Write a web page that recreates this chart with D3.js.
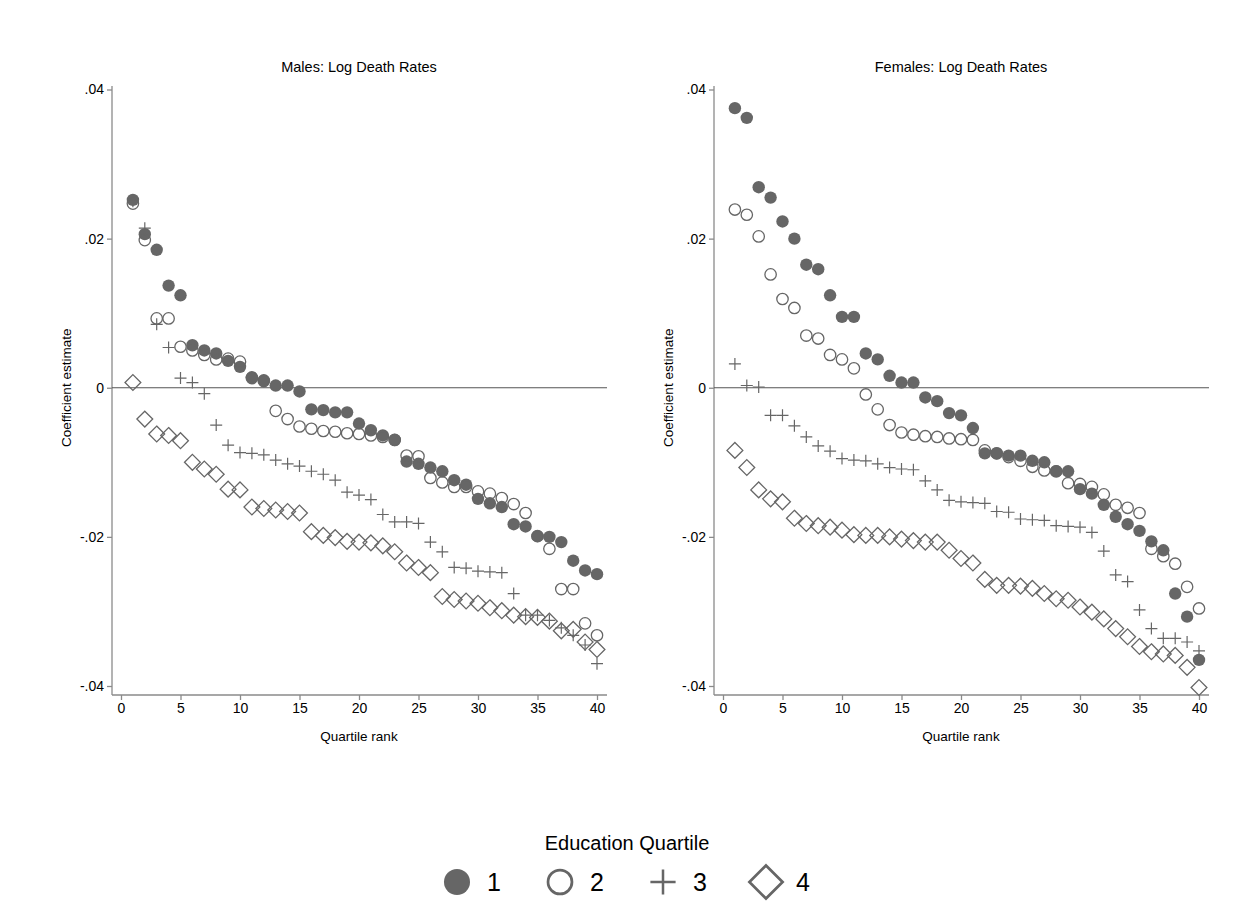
<!DOCTYPE html>
<html>
<head>
<meta charset="utf-8">
<script src="https://cdn.jsdelivr.net/npm/d3@7"></script>
<style>
  body { margin: 0; background: #fff; }
  text { font-family: "Liberation Sans", Arial, Helvetica, sans-serif; }
</style>
</head>
<body>
<div id="chart"></div>
<script>
var svgWidth = 1251;
var svgHeight = 911;

var ranks = d3.range(1, 41);
var yTicks = [0.04, 0.02, 0, -0.02, -0.04];
var yTickLabels = [".04", ".02", "0", "-.02", "-.04"];
var xTicks = [0, 5, 10, 15, 20, 25, 30, 35, 40];
var quartiles = ["1", "2", "3", "4"];

// Males, one array per education quartile (rank 1..40)
var maleQ1 = [0.0252, 0.0206, 0.0185, 0.0137, 0.0124, 0.0057, 0.0050, 0.0046, 0.0036, 0.0028,
	0.0014, 0.0010, 0.0003, 0.0003, -0.0005, -0.0029, -0.0030, -0.0033, -0.0033, -0.0048,
	-0.0057, -0.0064, -0.0070, -0.0099, -0.0102, -0.0107, -0.0112, -0.0124, -0.0130, -0.0149,
	-0.0155, -0.0160, -0.0183, -0.0186, -0.0199, -0.0200, -0.0207, -0.0232, -0.0245, -0.0250];
var maleQ2 = [0.0247, 0.0198, 0.0093, 0.0093, 0.0055, 0.0050, 0.0044, 0.0038, 0.0039, 0.0035,
	0.0013, 0.0009, -0.0031, -0.0042, -0.0052, -0.0055, -0.0058, -0.0059, -0.0061, -0.0062,
	-0.0064, -0.0066, -0.0070, -0.0091, -0.0092, -0.0121, -0.0127, -0.0133, -0.0133, -0.0139,
	-0.0142, -0.0148, -0.0156, -0.0168, -0.0199, -0.0216, -0.0270, -0.0270, -0.0316, -0.0332];
var maleQ3 = [0.0250, 0.0214, 0.0085, 0.0054, 0.0013, 0.0007, -0.0008, -0.0050, -0.0077, -0.0087,
	-0.0088, -0.0090, -0.0097, -0.0102, -0.0105, -0.0112, -0.0116, -0.0124, -0.0140, -0.0144,
	-0.0150, -0.0170, -0.0180, -0.0180, -0.0182, -0.0207, -0.0220, -0.0241, -0.0242, -0.0246,
	-0.0247, -0.0248, -0.0276, -0.0305, -0.0305, -0.0312, -0.0322, -0.0332, -0.0345, -0.0370];
var maleQ4 = [0.0007, -0.0042, -0.0062, -0.0064, -0.0071, -0.0100, -0.0109, -0.0116, -0.0136, -0.0137,
	-0.0160, -0.0162, -0.0164, -0.0166, -0.0168, -0.0193, -0.0198, -0.0201, -0.0206, -0.0207,
	-0.0208, -0.0212, -0.0220, -0.0235, -0.0241, -0.0248, -0.0280, -0.0284, -0.0286, -0.0289,
	-0.0295, -0.0299, -0.0305, -0.0307, -0.0308, -0.0313, -0.0326, -0.0324, -0.0341, -0.0351];

// Females
var femaleQ1 = [0.0375, 0.0362, 0.0269, 0.0255, 0.0223, 0.0200, 0.0165, 0.0159, 0.0124, 0.0095,
	0.0095, 0.0046, 0.0038, 0.0016, 0.0007, 0.0007, -0.0013, -0.0018, -0.0034, -0.0037,
	-0.0054, -0.0088, -0.0088, -0.0091, -0.0091, -0.0098, -0.0100, -0.0112, -0.0112, -0.0136,
	-0.0142, -0.0157, -0.0173, -0.0183, -0.0192, -0.0206, -0.0218, -0.0276, -0.0307, -0.0365];
var femaleQ2 = [0.0239, 0.0232, 0.0203, 0.0152, 0.0119, 0.0107, 0.0070, 0.0066, 0.0044, 0.0038,
	0.0026, -0.0009, -0.0029, -0.0050, -0.0060, -0.0063, -0.0065, -0.0066, -0.0068, -0.0069,
	-0.0070, -0.0084, -0.0088, -0.0093, -0.0098, -0.0106, -0.0111, -0.0112, -0.0128, -0.0129,
	-0.0133, -0.0143, -0.0157, -0.0161, -0.0168, -0.0216, -0.0226, -0.0236, -0.0267, -0.0296];
var femaleQ3 = [0.0032, 0.0003, 0.0001, -0.0037, -0.0037, -0.0051, -0.0066, -0.0078, -0.0085, -0.0095,
	-0.0097, -0.0098, -0.0102, -0.0107, -0.0109, -0.0110, -0.0125, -0.0137, -0.0151, -0.0153,
	-0.0154, -0.0155, -0.0166, -0.0167, -0.0176, -0.0177, -0.0178, -0.0185, -0.0186, -0.0187,
	-0.0194, -0.0219, -0.0251, -0.0260, -0.0298, -0.0323, -0.0336, -0.0336, -0.0341, -0.0353];
var femaleQ4 = [-0.0084, -0.0107, -0.0137, -0.0149, -0.0153, -0.0175, -0.0182, -0.0185, -0.0187, -0.0191,
	-0.0197, -0.0198, -0.0198, -0.0200, -0.0203, -0.0205, -0.0207, -0.0207, -0.0218, -0.0229,
	-0.0235, -0.0257, -0.0265, -0.0265, -0.0266, -0.0269, -0.0276, -0.0283, -0.0285, -0.0294,
	-0.0301, -0.0310, -0.0323, -0.0334, -0.0347, -0.0354, -0.0357, -0.0359, -0.0375, -0.0402];

var markColor = "#666666";
var axisColor = "#8a8a8a";

var svg = d3.select("#chart")
	.append("svg")
	.attr("width", svgWidth)
	.attr("height", svgHeight);

// draws the symbol of a quartile centred on (0,0) inside g
function drawMark(g, q, s) {
	if (q == 0) {
		g.append("circle").attr("r", 6.2 * s).attr("fill", markColor);
	} else if (q == 1) {
		g.append("circle").attr("r", 5.7 * s).attr("fill", "none")
			.attr("stroke", markColor).attr("stroke-width", 1.3 * s);
	} else if (q == 2) {
		var h = 6 * s;
		g.append("path")
			.attr("d", "M" + (-h) + ",0H" + h + "M0," + (-h) + "V" + h)
			.attr("stroke", markColor).attr("stroke-width", 1.2 * s)
			.attr("fill", "none");
	} else {
		var d = 7.9 * s;
		g.append("path")
			.attr("d", "M0," + (-d) + "L" + d + ",0L0," + d + "L" + (-d) + ",0Z")
			.attr("fill", "none").attr("stroke", markColor)
			.attr("stroke-width", 1.3 * s);
	}
}

function panel(title, left, series) {
	var x = d3.scaleLinear().domain([0, 40]).range([left + 9, left + 485]);
	var y = d3.scaleLinear().domain([-0.04, 0.04]).range([686, 89.5]);
	var x0 = left, x1 = left + 495, yBottom = 695, yTop = 86;

	var g = svg.append("g");

	g.append("text")
		.attr("x", x(20)).attr("y", 72)
		.attr("text-anchor", "middle")
		.attr("font-size", 14.5)
		.text(title);

	// y axis
	var ya = g.append("g").attr("transform", "translate(" + x0 + ",0)")
		.call(d3.axisLeft(y).tickValues(yTicks).tickSize(5).tickPadding(3)
			.tickFormat(function(d, i) { return yTickLabels[i]; }));
	ya.select(".domain").attr("d", "M0," + yTop + "V" + yBottom);

	// x axis
	var xa = g.append("g").attr("transform", "translate(0," + yBottom + ")")
		.call(d3.axisBottom(x).tickValues(xTicks).tickSize(5).tickPadding(3));
	xa.select(".domain").attr("d", "M" + x0 + ",0H" + x1);

	g.selectAll(".domain, .tick line").attr("stroke", axisColor).attr("stroke-width", 1.3);
	g.selectAll(".tick text").attr("font-size", 14).attr("fill", "#000")
		.attr("font-family", "Liberation Sans, Arial, sans-serif");

	g.append("text")
		.attr("x", x(20)).attr("y", 741)
		.attr("text-anchor", "middle")
		.attr("font-size", 13.5)
		.text("Quartile rank");

	g.append("text")
		.attr("transform", "translate(" + (left - 41) + "," + y(0) + ") rotate(-90)")
		.attr("text-anchor", "middle")
		.attr("font-size", 13.5)
		.text("Coefficient estimate");

	// zero line
	g.append("line")
		.attr("x1", x0).attr("x2", x1)
		.attr("y1", y(0)).attr("y2", y(0))
		.attr("stroke", "#555").attr("stroke-width", 1.2);

	series.forEach(function(vals, q) {
		g.selectAll(null)
			.data(vals)
			.enter().append("g")
			.attr("transform", function(d, i) {
				return "translate(" + x(ranks[i]) + "," + y(d) + ")";
			})
			.each(function() { drawMark(d3.select(this), q, 1); });
	});
}

panel("Males: Log Death Rates", 112, [maleQ1, maleQ2, maleQ3, maleQ4]);
panel("Females: Log Death Rates", 714, [femaleQ1, femaleQ2, femaleQ3, femaleQ4]);

// legend
svg.append("text")
	.attr("x", 627).attr("y", 850)
	.attr("text-anchor", "middle")
	.attr("font-size", 20)
	.text("Education Quartile");

var legendX = [457, 560, 663, 766];
quartiles.forEach(function(lab, q) {
	var lg = svg.append("g").attr("transform", "translate(" + legendX[q] + ",882)");
	drawMark(lg, q, 2.1);
	svg.append("text")
		.attr("x", legendX[q] + 30).attr("y", 891)
		.attr("font-size", 25)
		.text(lab);
});
</script>
</body>
</html>
